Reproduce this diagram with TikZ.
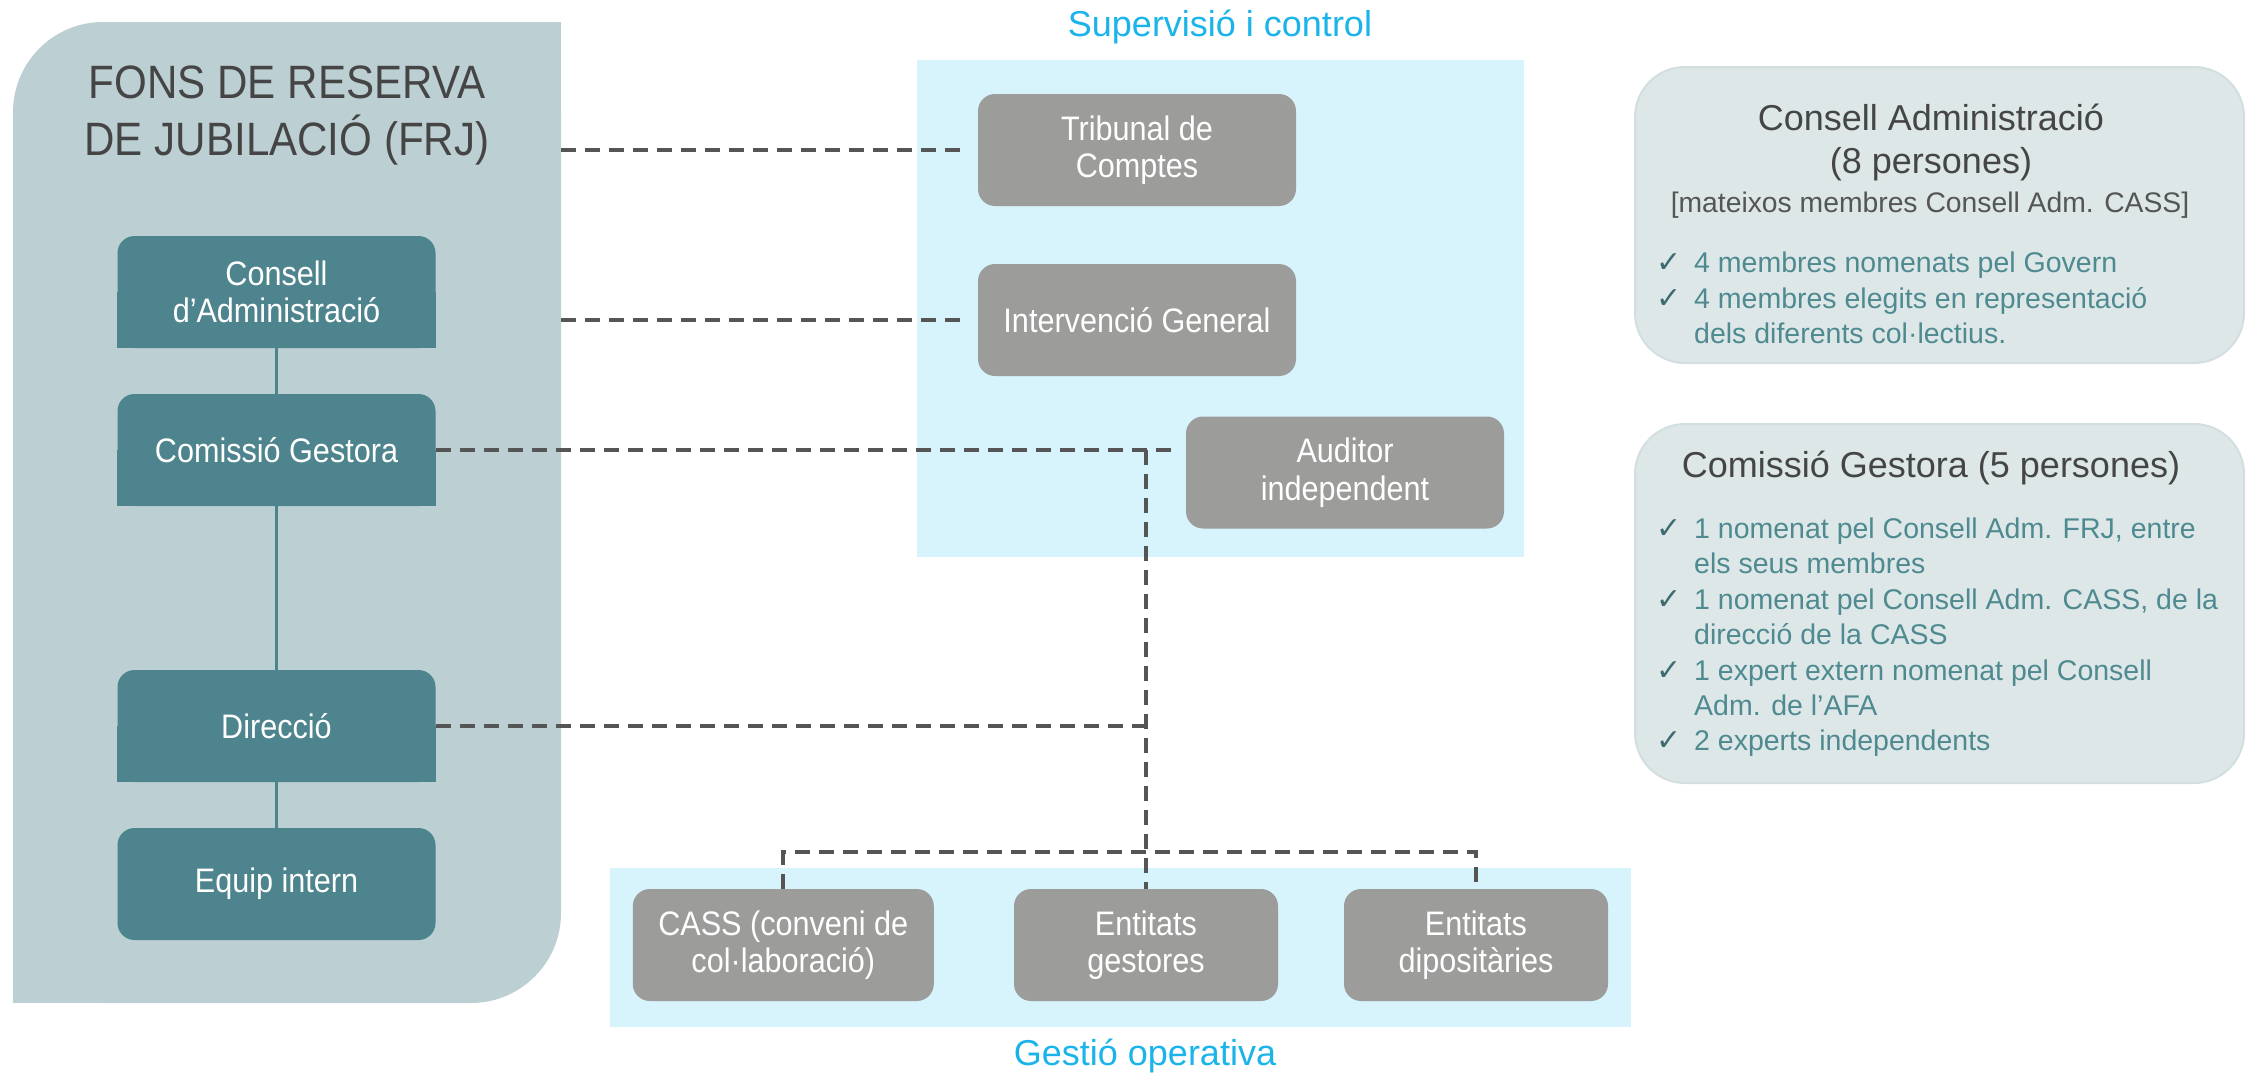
\documentclass[tikz,border=0pt]{standalone}
\usepackage{fontspec}
\setmainfont{Liberation Sans}[FakeStretch=0.9]
\newfontfamily\plainsans{Liberation Sans}
\newfontfamily\symf{DejaVu Sans}
\definecolor{panelc}{HTML}{BCCFD3}
\definecolor{tealc}{HTML}{4E848D}
\definecolor{grayc}{HTML}{9C9C9B}
\definecolor{lblue}{HTML}{D7F3FC}
\definecolor{cyant}{HTML}{1BB4EA}
\definecolor{dashc}{HTML}{555555}
\definecolor{infofill}{HTML}{DDE7E8}
\definecolor{infoline}{HTML}{D2DEE0}
\definecolor{titlec}{HTML}{454545}
\definecolor{subc}{HTML}{555555}
\definecolor{itemc}{HTML}{4E8A90}
\definecolor{checkc}{HTML}{3E6B70}
\pgfdeclarelayer{back}
\pgfdeclarelayer{mid}
\pgfsetlayers{back,mid,main}
\tikzset{
  orgbox/.style={minimum width=318pt, minimum height=112pt, inner sep=0pt, align=center,
    text=white, font=\fontsize{34}{37.5}\selectfont, rounded corners=17pt},
  tealbox/.style={orgbox, fill=tealc},
  graybox/.style={orgbox, fill=grayc},
  dashln/.style={draw=dashc, line width=4pt, dash pattern=on 15pt off 9pt},
  tealln/.style={draw=tealc, line width=3pt},
  cyanlbl/.style={text=cyant, font=\plainsans\fontsize{36}{40}\selectfont, inner sep=0pt, anchor=base},
  infobox/.style={fill=infofill, draw=infoline, line width=2pt, rounded corners=50pt},
  infotitle/.style={text=titlec, font=\plainsans\fontsize{36}{43}\selectfont, inner sep=0pt, anchor=base},
  infosub/.style={text=subc, font=\plainsans\fontsize{28.3}{34}\selectfont, inner sep=0pt, anchor=base},
  item/.style={text=itemc, font=\plainsans\fontsize{28.5}{35.5}\selectfont, inner sep=0pt, anchor=north west, align=left},
  chk/.style={text=checkc, font=\symf\fontsize{30}{34}\selectfont, inner sep=0pt, anchor=base west},
}
\begin{document}
\begin{tikzpicture}[x=1pt,y=-1pt]
\useasboundingbox (0,0) rectangle (2249,1074);
\begin{pgfonlayer}{back}
  % FRJ panel
  \fill[panelc, rounded corners=90pt] (13,22) rectangle (561,1003);
  \fill[panelc] (461,22) rectangle (561,122);
  \fill[panelc] (13,903) rectangle (113,1003);
  % areas
  \fill[lblue] (917,60) rectangle (1524,557);
  \fill[lblue] (610,868) rectangle (1631,1027);
  % info boxes
  \path[infobox] (1635,67) rectangle (2244,363);
  \path[infobox] (1635,424) rectangle (2244,783);
\end{pgfonlayer}
\coordinate (pe) at (561,0);
\coordinate (bus) at (0,852);

% FRJ title
\node[text=titlec, font=\fontsize{46.8}{57}\selectfont, align=center, inner sep=0pt] (frj) at (287,116) {FONS DE RESERVA\\DE JUBILACIÓ (FRJ)};

% teal boxes
\node[tealbox] (cons) at (276.5,292) {Consell\\d’Administració};
\node[tealbox] (com) at (276.5,450) {Comissió Gestora};
\node[tealbox] (dir) at (276.5,726) {Direcció};
\node[tealbox] (eq) at (276.5,884) {Equip intern};
\begin{pgfonlayer}{mid}
  \foreach \n in {cons,com,dir} \fill[tealc] (\n.south west) rectangle (\n.east);
\end{pgfonlayer}
\draw[tealln] (cons.south) -- (com.north);
\draw[tealln] (com.south) -- (dir.north);
\draw[tealln] (dir.south) -- (eq.north);

% gray boxes
\node[graybox] (trib) at (1137,150) {Tribunal de\\Comptes};
\node[graybox] (int) at (1137,320) {Intervenció General};
\node[graybox] (aud) at (1345,472.5) {Auditor\\independent};
\node[graybox, minimum width=301pt] (cass) at (783.3,945) {CASS (conveni de\\col·laboració)};
\node[graybox, minimum width=264pt] (gest) at (1146,945) {Entitats\\gestores};
\node[graybox, minimum width=264pt] (dip) at (1476,945) {Entitats\\dipositàries};

% labels
\node[cyanlbl] (sup) at (1220,36) {Supervisió i control};
\node[cyanlbl] (gop) at (1145,1065) {Gestió operativa};

% dashed connectors
\draw[dashln, shorten >=9pt] (pe |- trib.west) -- (trib.west);
\draw[dashln, shorten >=9pt] (pe |- int.west) -- (int.west);
\draw[dashln, shorten >=7pt] (com.east) -- (aud.west |- com.east);
\draw[dashln] (com.east -| gest.north) -- (gest.north);
\draw[dashln] (dir.east) -- (dir.east -| gest.north);
\draw[dashln] (cass.north) -- (cass.north |- bus) -- (dip.north |- bus) -- (dip.north);

% info box 1
\node[infotitle] (catitle) at (1931,130) {Consell Administració};
\node[infotitle] (capers) at (1931,173) {(8 persones)};
\node[infosub] (camem) at (1930,212) {[mateixos membres Consell Adm. CASS]};
\node[chk] (ck1) at (1656,272) {✓};
\node[item] (it1) at (1694,247.15) {\strut 4 membres nomenats pel Govern};
\node[chk] (ck2) at (1656,308) {✓};
\node[item] (it2) at (1694,283.15) {\strut 4 membres elegits en representació\\\strut dels diferents col·lectius.};

% info box 2
\node[infotitle] (cgtitle) at (1931,477) {Comissió Gestora (5 persones)};
\node[chk] (ck3) at (1656,538) {✓};
\node[item] (it3) at (1694,513.15) {\strut 1 nomenat pel Consell Adm. FRJ, entre\\\strut els seus membres};
\node[chk] (ck4) at (1656,609) {✓};
\node[item] (it4) at (1694,584.15) {\strut 1 nomenat pel Consell Adm. CASS, de la\\\strut direcció de la CASS};
\node[chk] (ck5) at (1656,680) {✓};
\node[item] (it5) at (1694,655.15) {\strut 1 expert extern nomenat pel Consell\\\strut Adm. de l’AFA};
\node[chk] (ck6) at (1656,750) {✓};
\node[item] (it6) at (1694,725.15) {\strut 2 experts independents};
\end{tikzpicture}
\end{document}
